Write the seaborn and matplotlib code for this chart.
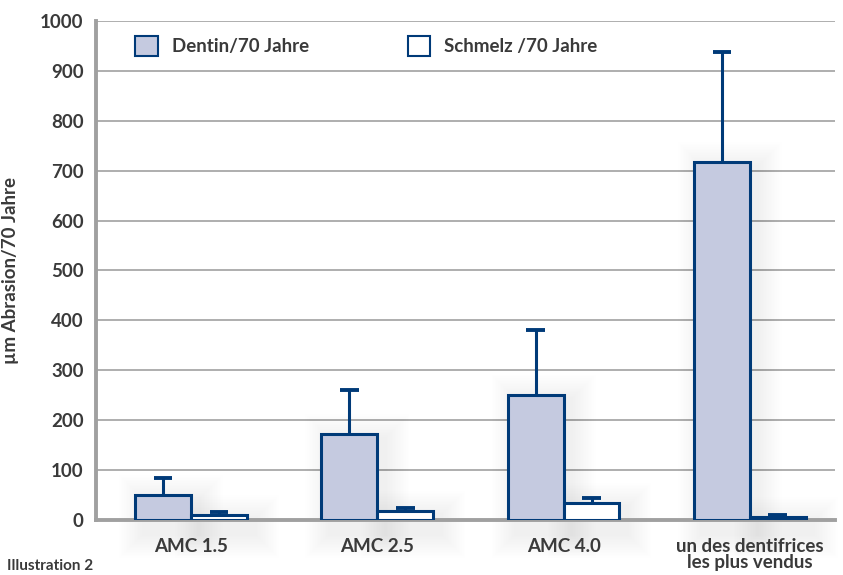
import matplotlib
matplotlib.use("Agg")
import matplotlib.pyplot as plt
import seaborn as sns
import pandas as pd
import numpy as np
from matplotlib.patches import Patch, Rectangle
from matplotlib.legend import Legend

categories = ["AMC 1.5", "AMC 2.5", "AMC 4.0", "un des dentifrices\nles plus vendus"]
series = ["Dentin/70 Jahre", "Schmelz /70 Jahre"]
dentin = [50, 172, 251, 717]
dentin_err_top = [85, 261, 380, 938]
schmelz = [9, 18, 34, 6]
schmelz_err_top = [15, 23, 44, 9]
yticks = [0, 100, 200, 300, 400, 500, 600, 700, 800, 900, 1000]

sns.set_theme(style="white")
plt.rcParams['font.family'] = ['Lato', 'DejaVu Sans']

edge = "#003a78"
fill = "#c5cae0"
txt = "#3a3a3a"
gridc = "#a8a8a8"

df = pd.DataFrame({
    "cat": categories * 2,
    "series": [series[0]] * 4 + [series[1]] * 4,
    "val": dentin + schmelz,
})

fig = plt.figure(figsize=(8.43, 5.75), dpi=100)
ax = fig.add_axes([0.1139, 0.0957, 0.8766, 0.8678])

sns.barplot(data=df, x="cat", y="val", hue="series", order=categories,
            hue_order=series, palette=[fill, "white"], width=0.6, gap=0,
            edgecolor=edge, linewidth=2.2, errorbar=None, legend=False,
            saturation=1, ax=ax, zorder=3)

ax.set_ylim(0, 1000)
ax.set_xlim(-0.51, 3.457)

# very soft drop shadow behind each bar
px_x = 1 / 186.3
px_y = 2.004
bars = list(ax.patches)
for b in bars:
    x0 = b.get_x()
    w = b.get_width()
    hgt = b.get_height()
    for k in range(1, 16):
        g = 1.6 * k
        r = Rectangle((x0 + 8 * px_x - g * px_x, -14 * px_y - g * px_y),
                      w + 2 * g * px_x,
                      hgt + 14 * px_y - 4 * px_y + 2 * g * px_y,
                      facecolor="#808080", edgecolor="none", alpha=0.009,
                      zorder=1.5, clip_on=False)
        ax.add_patch(r)

# error bars (upward only)
tops = dentin_err_top + schmelz_err_top
vals = dentin + schmelz
cap_half = 0.05
for bar, v, t in zip(bars, vals, tops):
    x = bar.get_x() + bar.get_width() / 2
    ax.vlines(x, v, t, color=edge, linewidth=2.2, zorder=2.5)
    ax.hlines(t, x - cap_half, x + cap_half, color=edge, linewidth=2.8, zorder=2.5)

ax.set_yticks(yticks)
ax.yaxis.grid(True, color=gridc, linewidth=1.3, zorder=0)
ax.set_axisbelow(True)
for s in ["top", "right"]:
    ax.spines[s].set_visible(False)
for s in ["left", "bottom"]:
    ax.spines[s].set_color("#a0a0a0")
    ax.spines[s].set_linewidth(2.8)
    ax.spines[s].set_zorder(2)
ax.tick_params(axis="both", length=0, labelsize=13.5, labelcolor=txt)
ax.tick_params(axis="y", pad=9)
ax.tick_params(axis="x", pad=13)
for lab in ax.get_xticklabels() + ax.get_yticklabels():
    lab.set_fontweight("bold")
for lab in ax.get_xticklabels():
    lab.set_linespacing(0.92)
ax.set_xlabel("")
ax.set_ylabel("µm Abrasion/70 Jahre", fontsize=13.5, fontweight="bold",
              color=txt)
ax.yaxis.set_label_coords(-0.104, 0.5)

anchors = [(0.053, 0.95), (0.422, 0.95)]
fills = [fill, "white"]
for name, fc, anc in zip(series, fills, anchors):
    h = [Patch(facecolor=fc, edgecolor=edge, linewidth=1.5)]
    leg = Legend(ax, h, [name], loc="center left", bbox_to_anchor=anc,
                 frameon=False, handlelength=1.2, handleheight=1.2,
                 handletextpad=0.75, fontsize=13.5, borderaxespad=0,
                 borderpad=0)
    for t in leg.get_texts():
        t.set_color(txt)
        t.set_fontweight("bold")
    ax.add_artist(leg)

fig.text(0.008, 0.004, "Illustration 2", fontsize=11, color=txt,
         fontweight="bold", va="bottom", ha="left")

fig.savefig("out.png", dpi=100)
